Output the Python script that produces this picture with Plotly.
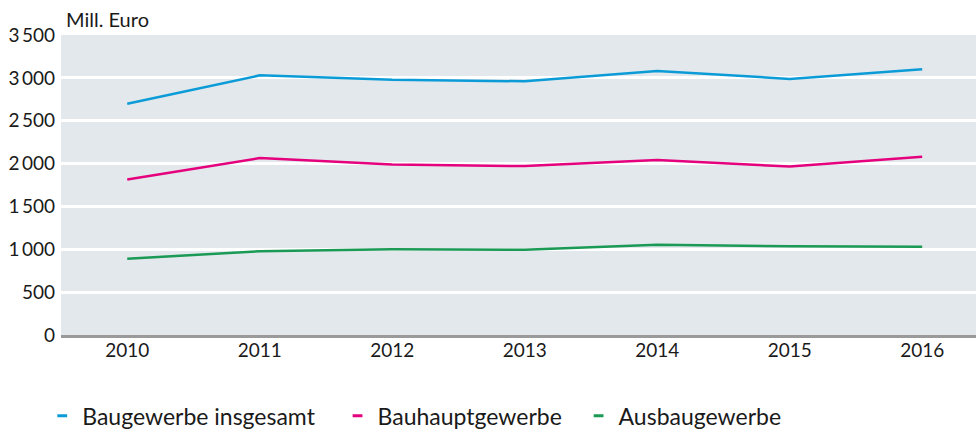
import plotly.graph_objects as go

years = [2010, 2011, 2012, 2013, 2014, 2015, 2016]
baugewerbe_insgesamt = [2698, 3029, 2977, 2960, 3081, 2988, 3099]
bauhauptgewerbe = [1814, 2064, 1988, 1971, 2041, 1965, 2081]
ausbaugewerbe = [890, 977, 1000, 994, 1052, 1035, 1029]

series_names = ["Baugewerbe insgesamt", "Bauhauptgewerbe", "Ausbaugewerbe"]
legend_pad = ["\u00a0\u00a0\u00a0", "\u00a0\u00a0", ""]
series_values = [baugewerbe_insgesamt, bauhauptgewerbe, ausbaugewerbe]
colors = ["#0b9cd8", "#e5007d", "#1a9a55"]

y_ticks = [0, 500, 1000, 1500, 2000, 2500, 3000, 3500]

FONT = "Lato"
TXT = "#1a1a1a"

fig = go.Figure()
for name, pad, vals, col in zip(series_names, legend_pad, series_values, colors):
    fig.add_trace(go.Scatter(x=years, y=vals, mode="lines", name=name,
                             line=dict(color=col, width=2.5), showlegend=False))
    fig.add_trace(go.Scatter(x=[None], y=[None], mode="markers", name=name + pad,
                             marker=dict(symbol="line-ew-open", size=7, color=col,
                                         line=dict(color=col, width=3)),
                             showlegend=True))

fig.update_layout(
    width=976, height=430,
    margin=dict(l=61, r=0, t=35, b=95, autoexpand=False),
    paper_bgcolor="white",
    plot_bgcolor="#e3e8ec",
    separators=",\u2009",
    font=dict(family=FONT, size=19, color=TXT),
    xaxis=dict(range=[2009.5, 2016.406], tickvals=years, ticktext=[str(y) for y in years],
               showgrid=False, zeroline=False, showline=True, linecolor="#9a9a9a",
               linewidth=3, ticks="", ticklabelstandoff=-4, automargin=False,
               tickfont=dict(family=FONT, size=19, color=TXT)),
    yaxis=dict(range=[0, 3500], tickvals=y_ticks, separatethousands=True,
               showgrid=True, gridcolor="white", gridwidth=2.5, zeroline=False,
               ticks="", ticklabelstandoff=5, automargin=False,
               tickfont=dict(family=FONT, size=19, color=TXT)),
    legend=dict(orientation="h", x=-0.0205, xanchor="left", y=-0.198, yanchor="top",
                itemwidth=30, font=dict(family=FONT, size=23, color=TXT),
                traceorder="normal", tracegroupgap=0, bgcolor="rgba(0,0,0,0)"),
    annotations=[dict(text="Mill. Euro", x=0.003, xref="paper", xanchor="left",
                      y=1, yref="paper", yanchor="bottom", yshift=2, showarrow=False,
                      font=dict(family=FONT, size=20, color=TXT))],
)

fig.write_html("out.html", config={"displayModeBar": False},
               post_script="document.body.style.margin='0';document.body.style.overflow='hidden';")
